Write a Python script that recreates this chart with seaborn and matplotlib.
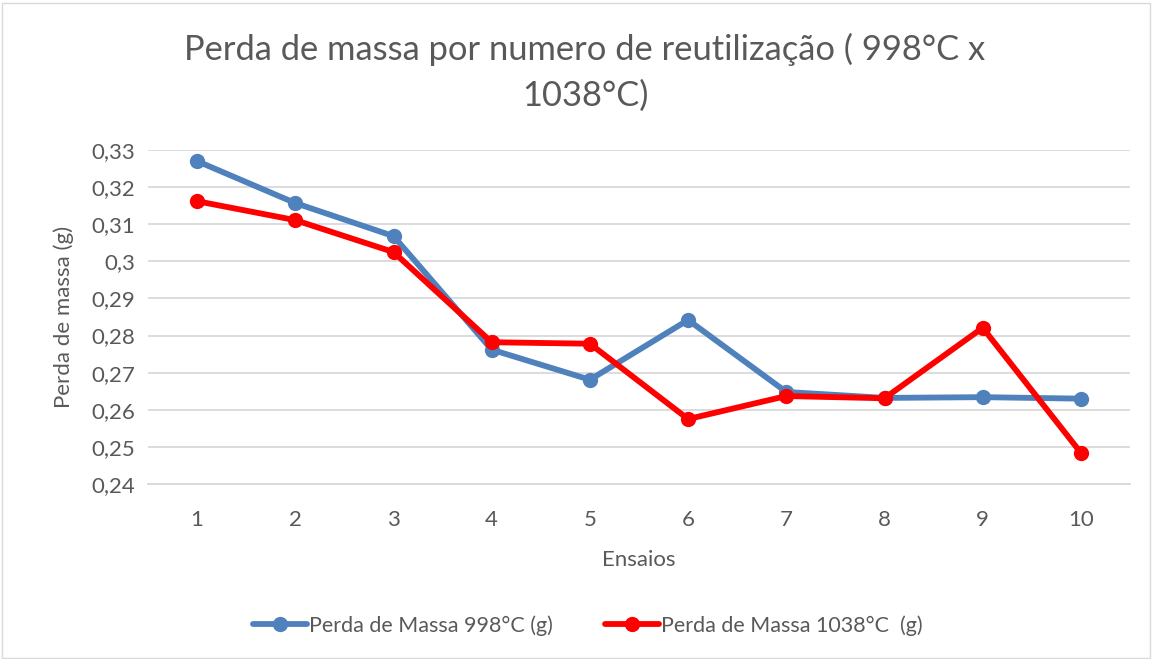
import matplotlib
matplotlib.use("Agg")
import matplotlib.pyplot as plt
import seaborn as sns
import pandas as pd
from matplotlib.ticker import FuncFormatter

# dados
ensaios = [1, 2, 3, 4, 5, 6, 7, 8, 9, 10]
perda_998 = [0.3270, 0.3157, 0.3068, 0.2762, 0.2681, 0.2842, 0.2648, 0.2632, 0.2634, 0.2630]
perda_1038 = [0.3162, 0.3111, 0.3025, 0.2782, 0.2778, 0.2575, 0.2637, 0.2631, 0.2821, 0.2484]
serie_998 = "Perda de Massa 998°C (g)"
serie_1038 = "Perda de Massa 1038°C  (g)"

df = pd.DataFrame({
    "Ensaios": [str(e) for e in ensaios] * 2,
    "Perda": perda_998 + perda_1038,
    "Serie": [serie_998] * len(ensaios) + [serie_1038] * len(ensaios),
})

sns.set_theme(style="white")
plt.rcParams["font.family"] = ["Lato", "DejaVu Sans"]
cinza = "#595959"

fig = plt.figure(figsize=(11.55, 6.59), dpi=100)
ax = fig.add_axes([148 / 1155, 1 - 484 / 659, 982 / 1155, 334 / 659])

sns.lineplot(data=df, x="Ensaios", y="Perda", hue="Serie", sort=False,
             palette={serie_998: "#4f81bd", serie_1038: "#ff0000"},
             marker="o", markersize=11, markeredgewidth=0, linewidth=4.2, ax=ax)

ax.set_xlim(-0.5, 9.5)
ax.set_ylim(0.24, 0.33)
ax.set_yticks([0.24 + 0.01 * i for i in range(10)])
ax.yaxis.set_major_formatter(FuncFormatter(lambda v, p: ("%.2f" % v).rstrip("0").replace(".", ",")))
ax.grid(axis="y", color="#d9d9d9", linewidth=1.3)
ax.set_axisbelow(True)
for s in ["top", "right", "left"]:
    ax.spines[s].set_visible(False)
ax.spines["bottom"].set_color("#d9d9d9")
ax.spines["bottom"].set_linewidth(1.3)
ax.tick_params(axis="both", colors=cinza, labelsize=16, length=0)
ax.tick_params(axis="x", pad=19)
ax.tick_params(axis="y", pad=9)

ax.set_xlabel("Ensaios", color=cinza, fontsize=16, labelpad=14)
ax.set_ylabel("Perda de massa (g)", color=cinza, fontsize=16, labelpad=13)

fig.suptitle("Perda de massa por numero de reutilização ( 998°C x\n1038°C)",
             x=585 / 1155, y=1 - 33 / 659, color=cinza, fontsize=24.8, linespacing=1.5)

ax.legend(loc="upper center", bbox_to_anchor=(0.448, -0.335), ncol=2, frameon=False,
          fontsize=15.5, labelcolor=cinza, handlelength=2.5, columnspacing=2.4,
          handletextpad=0.1)

fig.patches.append(plt.Rectangle((0.002, 0.002), 0.994, 0.994, transform=fig.transFigure,
                                 fill=False, edgecolor="#d9d9d9", linewidth=1))

fig.savefig("out.png", dpi=100)
